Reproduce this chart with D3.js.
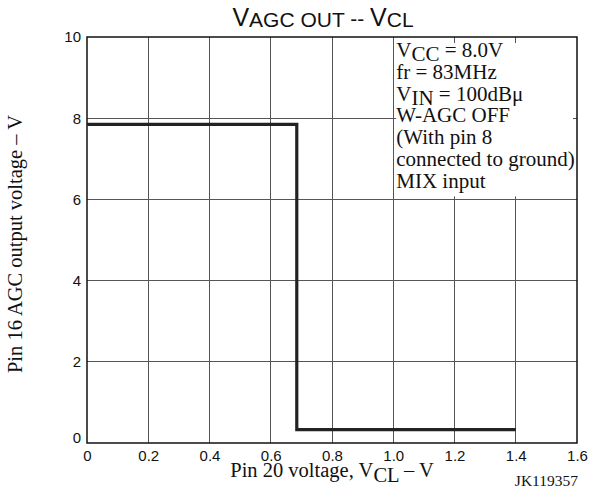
<!DOCTYPE html>
<html>
<head>
<meta charset="utf-8">
<script src="https://cdn.jsdelivr.net/npm/d3@7"></script>
<style>
  body { margin: 0; background: #fff; }
  svg { display: block; }
</style>
</head>
<body>
<svg id="chart" width="591" height="495"></svg>
<script>
// Step response of the AGC output against the pin 20 control voltage
const vclVolts = [0, 0.685, 0.685, 1.4];
const agcOutVolts = [7.85, 7.85, 0.33, 0.33];
const xTicks = [0, 0.2, 0.4, 0.6, 0.8, 1.0, 1.2, 1.4, 1.6];
const xTickLabels = ["0", "0.2", "0.4", "0.6", "0.8", "1.0", "1.2", "1.4", "1.6"];
const yTicks = [0, 2, 4, 6, 8, 10];
const yTickLabels = ["0", "2", "4", "6", "8", "10"];
const conditionLines = [
  [["V", ""], ["CC", "sub"], [" = 8.0V", ""]],
  [["fr = 83MHz", ""]],
  [["V", ""], ["IN", "sub"], [" = 100dBμ", ""]],
  [["W-AGC OFF", ""]],
  [["(With pin 8", ""]],
  [["connected to ground)", ""]],
  [["MIX input", ""]]
];

const svg = d3.select("#chart");
const plot = { left: 87, right: 577, top: 37, bottom: 443 };

const x = d3.scaleLinear().domain([0, 1.6]).range([plot.left, plot.right]);
const y = d3.scaleLinear().domain([0, 10]).range([plot.bottom, plot.top]);

const sans = "'Liberation Sans', Arial, sans-serif";
const serif = "'Liberation Serif', 'Times New Roman', serif";

// grid
const grid = svg.append("g").attr("stroke", "#555").attr("stroke-width", 1).attr("shape-rendering", "crispEdges");
grid.selectAll("line.v").data(xTicks.slice(1, -1)).join("line")
  .attr("x1", d => x(d)).attr("x2", d => x(d))
  .attr("y1", plot.top).attr("y2", plot.bottom);
grid.selectAll("line.h").data(yTicks.slice(1, -1)).join("line")
  .attr("x1", plot.left).attr("x2", plot.right)
  .attr("y1", d => y(d)).attr("y2", d => y(d));

// condition box (white panel over the grid)
svg.append("rect")
  .attr("x", x(1.0) + 3).attr("y", y(10) + 6)
  .attr("width", x(1.6) - x(1.0) - 7).attr("height", y(6) - y(10) - 9)
  .attr("fill", "#fff");

const notes = svg.append("g")
  .attr("font-family", serif).attr("font-size", 21).attr("fill", "#111");
conditionLines.forEach((parts, i) => {
  const t = notes.append("text").attr("x", x(1.0) + 3).attr("y", 57 + i * 21.8);
  parts.forEach(([s, kind], j) => {
    const span = t.append("tspan").text(s);
    if (kind === "sub") span.attr("dy", 4);
    else if (j > 0 && parts[j - 1][1] === "sub") span.attr("dy", -4);
  });
});

// frame
svg.append("rect")
  .attr("x", plot.left).attr("y", plot.top)
  .attr("width", plot.right - plot.left).attr("height", plot.bottom - plot.top)
  .attr("fill", "none").attr("stroke", "#111").attr("stroke-width", 1.5);

// data trace
const line = d3.line().x((d, i) => x(vclVolts[i])).y(d => y(d));
svg.append("path")
  .attr("d", line(agcOutVolts))
  .attr("fill", "none").attr("stroke", "#222").attr("stroke-width", 3.2)
  .attr("stroke-linejoin", "miter");

// axes
const xAxis = d3.axisBottom(x).tickValues(xTicks).tickSize(0).tickPadding(7)
  .tickFormat((d, i) => xTickLabels[i]);
const gx = svg.append("g").attr("transform", `translate(0,${plot.bottom})`).call(xAxis);
gx.select(".domain").remove();
gx.selectAll("text").attr("font-family", sans).attr("font-size", 15).attr("fill", "#111");

const yAxis = d3.axisLeft(y).tickValues(yTicks).tickSize(0).tickPadding(6)
  .tickFormat((d, i) => yTickLabels[i]);
const gy = svg.append("g").attr("transform", `translate(${plot.left},0)`).call(yAxis);
gy.select(".domain").remove();
gy.selectAll("text").attr("font-family", sans).attr("font-size", 15).attr("fill", "#111")
  .attr("dy", d => d === 0 ? "-0.05em" : "0.32em");

// title
const title = svg.append("text").attr("x", 323).attr("y", 26)
  .attr("text-anchor", "middle").attr("font-family", sans).attr("fill", "#111");
title.append("tspan").attr("font-size", 25).text("V");
title.append("tspan").attr("font-size", 21).attr("dy", 1).text("AGC OUT");
title.append("tspan").attr("font-size", 21).attr("dy", -1).text(" -- ");
title.append("tspan").attr("font-size", 25).text("V");
title.append("tspan").attr("font-size", 21).attr("dy", 1).text("CL");

// axis titles
const xl = svg.append("text").attr("x", 332).attr("y", 477)
  .attr("text-anchor", "middle").attr("font-family", serif).attr("font-size", 20.5).attr("fill", "#111");
xl.append("tspan").text("Pin 20 voltage, V");
xl.append("tspan").attr("dy", 5).text("CL");
xl.append("tspan").attr("dy", -5).text(" – V");

svg.append("text")
  .attr("transform", `translate(22,${(plot.top + plot.bottom) / 2 + 4}) rotate(-90)`)
  .attr("text-anchor", "middle").attr("font-family", serif).attr("font-size", 20.5).attr("fill", "#111")
  .text("Pin 16 AGC output voltage – V");

svg.append("text").attr("x", 578).attr("y", 486).attr("text-anchor", "end")
  .attr("font-family", serif).attr("font-size", 15.5).attr("fill", "#111").text("JK119357");
</script>
</body>
</html>
